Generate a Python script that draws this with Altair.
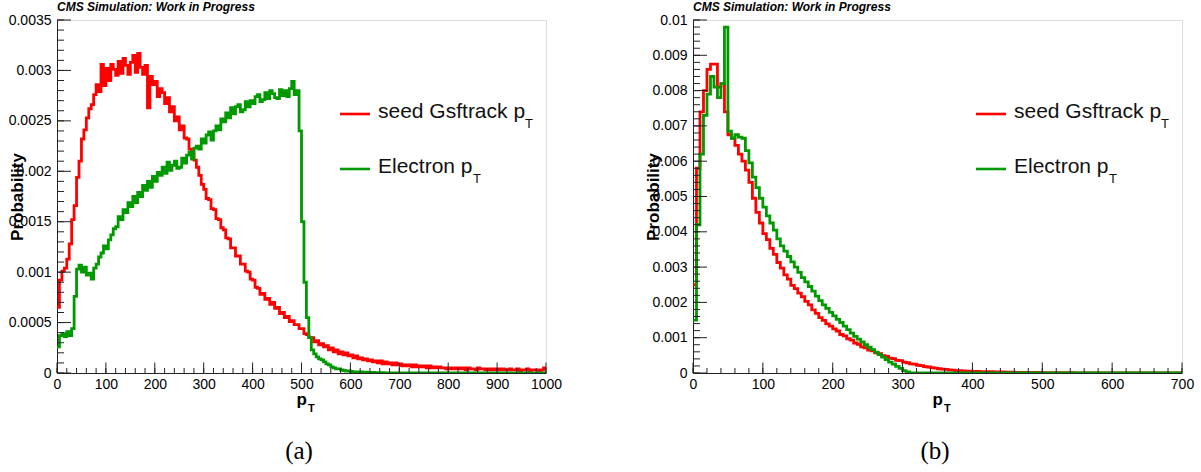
import altair as alt
import pandas as pd
import numpy as np

# ---------------- data (values in units of 1e-4, bins of 5 GeV) ----------------
BIN_A = 5
seed_a = [
    6.5, 9.2, 10.1, 10.4, 11.3, 12.8, 15.2, 16.6, 19.4, 21.0, 23.2, 24.1, 25.3, 26.2, 26.6, 27.6, 28.6, 27.9, 30.6, 28.5,
    30.2, 29.0, 30.6, 30.1, 29.5, 30.9, 29.7, 31.2, 30.5, 29.6, 30.8, 31.5, 29.8, 31.7, 30.3, 29.6, 30.5, 26.3, 29.4, 28.6,
    28.9, 27.4, 28.2, 27.8, 26.7, 27.3, 25.9, 26.4, 25.0, 25.4, 24.1, 24.5, 23.3, 23.2, 22.2, 21.9, 21.1, 20.4, 19.6, 18.7,
    18.2, 17.3, 17.2, 16.3, 16.2, 15.3, 15.2, 14.4, 14.2, 13.4, 13.3, 12.4, 12.4, 11.6, 11.6, 10.8, 10.8, 10.1, 10.0, 9.3,
    9.2, 8.5, 8.4, 7.8, 7.9, 7.3, 7.4, 6.8, 7.0, 6.4, 6.5, 5.9, 6.0, 5.5, 5.6, 5.1, 5.2, 4.8, 4.8, 4.4,
    4.4, 3.9, 3.8, 3.5, 3.5, 3.1, 3.2, 2.8, 2.9, 2.6, 2.7, 2.3, 2.5, 2.1, 2.3, 1.9, 2.1, 1.8, 2.0, 1.7,
    1.8, 1.5, 1.7, 1.4, 1.5, 1.3, 1.4, 1.2, 1.3, 1.1, 1.2, 1.0, 1.2, 0.9, 1.1, 0.9, 1.0, 0.8, 1.0, 0.8,
    0.9, 0.7, 0.8, 0.7, 0.8, 0.6, 0.8, 0.6, 0.7, 0.6, 0.7, 0.5, 0.7, 0.5, 0.6, 0.5, 0.6, 0.5, 0.5, 0.4,
    0.5, 0.4, 0.5, 0.4, 0.5, 0.4, 0.5, 0.3, 0.5, 0.4, 0.4, 0.3, 0.5, 0.4, 0.4, 0.3, 0.4, 0.3, 0.4, 0.3,
    0.4, 0.3, 0.4, 0.3, 0.3, 0.4, 0.3, 0.3, 0.4, 0.2, 0.3, 0.3, 0.4, 0.2, 0.3, 0.3, 0.3, 0.2, 0.3, 0.5,
]
elec_a = [
    2.6, 3.7, 3.9, 3.6, 4.1, 3.7, 4.4, 7.6, 10.3, 10.7, 10.0, 10.5, 9.7, 9.9, 9.3, 10.4, 10.8, 11.5, 11.9, 12.6,
    12.3, 13.2, 13.7, 14.3, 14.5, 15.5, 15.2, 16.2, 15.9, 16.9, 16.5, 17.5, 16.9, 17.9, 17.5, 18.6, 18.1, 19.0, 18.4, 19.5,
    19.0, 19.9, 19.6, 20.4, 19.8, 20.9, 20.1, 20.6, 21.0, 20.3, 20.4, 21.3, 20.8, 21.6, 21.9, 21.2, 22.3, 22.5, 22.2, 23.2,
    22.8, 23.6, 23.9, 23.1, 24.0, 24.5, 24.1, 25.2, 24.9, 25.8, 25.3, 26.3, 25.7, 26.4, 26.6, 25.9, 26.1, 26.9, 26.4, 27.0,
    26.7, 27.4, 27.6, 26.9, 27.1, 27.8, 27.2, 28.0, 27.7, 27.3, 27.2, 28.1, 27.5, 28.0, 27.4, 28.2, 28.9, 27.6, 28.0, 24.0,
    15.0, 9.0, 5.5, 3.5, 2.3, 1.9, 1.6, 1.4, 1.3, 1.1, 0.9, 0.8, 0.6, 0.5, 0.4, 0.4, 0.3, 0.25, 0.2, 0.2,
    0.15, 0.1, 0.1, 0.1, 0.1, 0.08, 0.08, 0.06, 0.05, 0.05, 0.04, 0.04, 0.03, 0.03, 0.02, 0.02, 0.02, 0.01, 0.01, 0.01,
    0, 0, 0, 0, 0, 0, 0, 0, 0, 0, 0, 0, 0, 0, 0, 0, 0, 0, 0, 0,
    0, 0, 0, 0, 0, 0, 0, 0, 0, 0, 0, 0, 0, 0, 0, 0, 0, 0, 0, 0,
    0, 0, 0, 0, 0, 0, 0, 0, 0, 0, 0, 0, 0, 0, 0, 0, 0, 0, 0, 0,
]

BIN_B = 5
seed_b = [
    25, 58, 74, 80, 86, 87.5, 87.5, 81, 82, 74, 67.5, 66.5, 64.5, 62, 60, 57.5, 54, 49.5, 45.5, 42.5,
    39.5, 37.8, 35.3, 33.6, 31.3, 29.7, 27.8, 26.6, 24.8, 23.9, 22.6, 21.6, 20.3, 19.3, 17.9, 16.9, 15.7, 14.9, 13.9, 13.3,
    12.5, 11.9, 10.9, 10.5, 9.7, 9.3, 8.5, 8.1, 7.4, 7.1, 6.5, 6.3, 5.7, 5.5, 4.9, 4.7, 4.2, 4.1, 3.6, 3.5,
    3.1, 2.9, 2.6, 2.5, 2.2, 2.1, 1.8, 1.7, 1.5, 1.4, 1.2, 1.1, 1.0, 0.9, 0.8, 0.7, 0.65, 0.6, 0.55, 0.5,
    0.45, 0.45, 0.4, 0.4, 0.35, 0.35, 0.3, 0.3, 0.3, 0.25, 0.25, 0.25, 0.2, 0.2, 0.2, 0.2, 0.15, 0.15, 0.15, 0.15,
    0.12, 0.12, 0.1, 0.1, 0.1, 0.1, 0.08, 0.08, 0.08, 0.06, 0.06, 0.06, 0.05, 0.05, 0.05, 0.04, 0.04, 0.04, 0.03, 0.03,
    0.03, 0.03, 0.03, 0.02, 0.02, 0.02, 0.02, 0.02, 0.02, 0.02, 0.02, 0.02, 0.02, 0.02, 0.02, 0.02, 0.02, 0.02, 0.02, 0.02,
]
elec_b = [
    15, 42, 62, 73, 79, 84, 81, 78, 82, 98, 68.5, 66.5, 67.5, 66.8, 66.5, 63, 59.5, 55.5, 52.5, 49.5,
    47, 44.5, 42.5, 40.5, 38, 36, 34.5, 33, 31.5, 30, 28.5, 27, 25.8, 24.5, 23.2, 21.8, 20.5, 19.3, 18.3, 17.2,
    16.2, 15.2, 14.3, 13.3, 12.3, 11.3, 10.4, 9.6, 8.8, 8.0, 7.3, 6.6, 5.9, 5.2, 4.5, 3.8, 3.1, 2.5, 1.9, 1.3,
    0.7, 0.3, 0.05, 0, 0, 0, 0, 0, 0, 0, 0, 0, 0, 0, 0, 0, 0, 0, 0, 0,
    0, 0, 0, 0, 0, 0, 0, 0, 0, 0, 0, 0, 0, 0, 0, 0, 0, 0, 0, 0,
    0, 0, 0, 0, 0, 0, 0, 0, 0, 0, 0, 0, 0, 0, 0, 0, 0, 0, 0, 0,
    0, 0, 0, 0, 0, 0, 0, 0, 0, 0, 0, 0, 0, 0, 0, 0, 0, 0, 0, 0,
]

series_names = ["seed", "electron"]
series_colors = ["#ff0000", "#009a00"]
legend_labels = ["seed Gsftrack p", "Electron p"]
title_text = ["CMS Simulation: Work in Progress"]
ya_ticks = [0, 0.0005, 0.001, 0.0015, 0.002, 0.0025, 0.003, 0.0035]
yb_ticks = [0, 0.001, 0.002, 0.003, 0.004, 0.005, 0.006, 0.007, 0.008, 0.009, 0.01]

FONT = "Liberation Sans"
W, H = 489, 353


def hist_df(vals_seed, vals_elec, binw):
    rows = []
    for name, vals in ((series_names[0], vals_seed), (series_names[1], vals_elec)):
        for i, v in enumerate(vals):
            rows.append({"pT": i * binw, "prob": v * 1e-4, "series": name})
        rows.append({"pT": len(vals) * binw, "prob": vals[-1] * 1e-4, "series": name})
    return pd.DataFrame(rows)


def panel(df, xmax, ymax, yvals, yminor_step, caption):
    xs = alt.Scale(domain=[0, xmax], nice=False, zero=True)
    ys = alt.Scale(domain=[0, ymax], nice=False, zero=True)
    xlabels = list(range(0, xmax + 1, 100))

    xaxis = alt.Axis(values=xlabels, format="d", title=None, ticks=False, grid=False, domain=True,
                     domainColor="#222", labelPadding=4, labelFlush=False,
                     labelFont=FONT, labelFontSize=14, labelColor="black")
    yaxis = alt.Axis(values=yvals, format="~g", title="Probability", ticks=False, grid=False,
                     domain=True, domainColor="#222", labelPadding=6,
                     labelFont=FONT, labelFontSize=14, labelColor="black",
                     titleFont=FONT, titleFontSize=17, titleFontWeight="bold",
                     titleColor="black", titleAngle=-90, titleX=-40, titleY=H / 2,
                     titleAlign="center", titleBaseline="middle")

    lines = alt.Chart(df).mark_line(interpolate="step-after", strokeWidth=2.8, clip=True).encode(
        x=alt.X("pT:Q", scale=xs, axis=xaxis, title=None),
        y=alt.Y("prob:Q", scale=ys, axis=yaxis, title="Probability"),
        color=alt.Color("series:N", scale=alt.Scale(domain=series_names, range=series_colors), legend=None),
    )

    xminor = pd.DataFrame({"pT": np.arange(0, xmax + 1, 20)})
    xmajor = pd.DataFrame({"pT": xlabels})
    yminor = pd.DataFrame({"prob": np.round(np.arange(0, ymax + 1e-12, yminor_step), 6)})
    ymajor = pd.DataFrame({"prob": yvals})

    xt_min = alt.Chart(xminor).mark_rule(color="#222", strokeWidth=1).encode(
        x=alt.X("pT:Q", scale=xs, axis=xaxis, title=None), y=alt.value(H), y2=alt.value(H - 5))
    xt_maj = alt.Chart(xmajor).mark_rule(color="#222", strokeWidth=1).encode(
        x=alt.X("pT:Q", scale=xs, axis=xaxis, title=None), y=alt.value(H), y2=alt.value(H - 10.5))
    yt_min = alt.Chart(yminor).mark_rule(color="#222", strokeWidth=1).encode(
        y=alt.Y("prob:Q", scale=ys, axis=yaxis, title="Probability"), x=alt.value(0), x2=alt.value(7))
    yt_maj = alt.Chart(ymajor).mark_rule(color="#222", strokeWidth=1).encode(
        y=alt.Y("prob:Q", scale=ys, axis=yaxis, title="Probability"), x=alt.value(0), x2=alt.value(14))

    title = alt.Chart(pd.DataFrame({"t": title_text})).mark_text(
        align="left", baseline="middle", font=FONT, fontSize=12, fontStyle="italic", fontWeight="bold",
        color="black").encode(text="t:N", x=alt.value(0), y=alt.value(-13))

    leg = []
    for i, (lab, col) in enumerate(zip(legend_labels, series_colors)):
        yl = 94 + 55 * i
        leg.append(alt.Chart(pd.DataFrame({"t": [lab]})).mark_rule(color=col, strokeWidth=2.6).encode(
            x=alt.value(283), x2=alt.value(313), y=alt.value(yl)))
        leg.append(alt.Chart(pd.DataFrame({"t": [lab]})).mark_text(
            align="left", baseline="alphabetic", font=FONT, fontSize=21, color="#111").encode(
            text="t:N", x=alt.value(321), y=alt.value(yl + 4)))
        leg.append(alt.Chart(pd.DataFrame({"t": ["T"]})).mark_text(
            align="left", baseline="alphabetic", font=FONT, fontSize=13, color="#111").encode(
            text="t:N", x=alt.value(468 if i == 0 else 416), y=alt.value(yl + 14)))

    xtitle_p = alt.Chart(pd.DataFrame({"t": ["p"]})).mark_text(
        align="right", baseline="alphabetic", font=FONT, fontSize=17, fontWeight="bold", color="black").encode(
        text="t:N", x=alt.value(250), y=alt.value(H + 32))
    xtitle_T = alt.Chart(pd.DataFrame({"t": ["T"]})).mark_text(
        align="left", baseline="alphabetic", font=FONT, fontSize=11, fontWeight="bold", color="black").encode(
        text="t:N", x=alt.value(251), y=alt.value(H + 39))
    cap = alt.Chart(pd.DataFrame({"t": [caption]})).mark_text(
        align="center", baseline="middle", font="Liberation Serif", fontSize=25, color="black").encode(
        text="t:N", x=alt.value(242), y=alt.value(H + 78))

    return alt.layer(lines, xt_min, xt_maj, yt_min, yt_maj, title, *leg, xtitle_p, xtitle_T, cap).properties(
        width=W, height=H)


pa = panel(hist_df(seed_a, elec_a, BIN_A), 1000, 0.0035, ya_ticks, 0.0001, "(a)")
pb = panel(hist_df(seed_b, elec_b, BIN_B), 700, 0.01, yb_ticks, 0.0002, "(b)")

chart = alt.hconcat(pa, pb, spacing=147, bounds="flush").properties(
    padding={"left": 7, "top": 0, "right": 0, "bottom": 0}
).configure_view(stroke="#999999", strokeWidth=1.5).configure(background="white")

chart.save("out.html", embed_options={"renderer": "svg", "actions": False})
